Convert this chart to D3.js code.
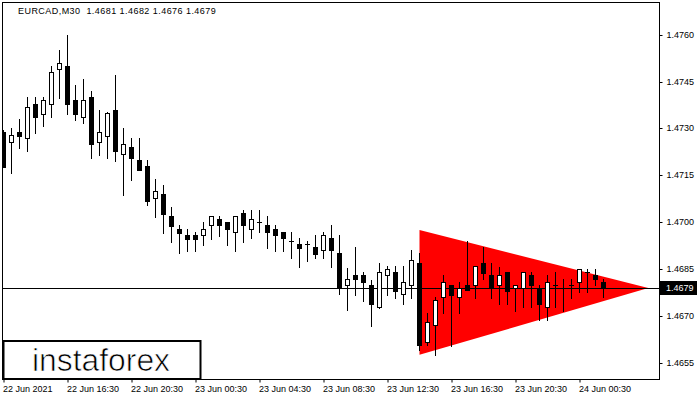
<!DOCTYPE html>
<html><head><meta charset="utf-8">
<script src="https://cdn.jsdelivr.net/npm/d3@7"></script>
<style>
html,body{margin:0;padding:0;background:#fff;}
svg{display:block;}
text{font-family:"Liberation Sans",Arial,sans-serif;}
</style></head>
<body>
<svg id="chart" width="700" height="400"></svg>
<script>
const symbolTitle = "EURCAD,M30  1.4681 1.4682 1.4676 1.4679";
const openVals = [1.47288,1.47258,1.47289,1.47269,1.47378,1.47347,1.47377,1.47489,1.47499,1.47390,
1.47338,1.47401,1.47258,1.47277,1.47358,1.47218,1.47240,1.47199,1.47180,1.47079,
1.47091,1.47020,1.46980,1.46959,1.46959,1.46958,1.46990,1.47011,1.47000,1.46968,
1.47029,1.46978,1.47000,1.46990,1.46978,1.46968,1.46939,1.46930,1.46930,1.46920,
1.46911,1.46949,1.46901,1.46799,1.46832,1.46832,1.46800,1.46728,1.46831,1.46840,
1.46770,1.46799,1.46870,1.46618,1.46671,1.46760,1.46799,1.46760,1.46799,1.46799,
1.46869,1.46831,1.46799,1.46840,1.46789,1.46789,1.46831,1.46789,1.46728,1.46799,
1.46789,1.46799,1.46808,1.46840,1.46831,1.46810];
const highVals = [1.47295,1.47301,1.47329,1.47402,1.47402,1.47402,1.47499,1.47551,1.47599,1.47439,
1.47458,1.47420,1.47359,1.47352,1.47471,1.47301,1.47269,1.47269,1.47199,1.47138,
1.47119,1.47048,1.46991,1.46979,1.46969,1.47001,1.47019,1.47020,1.47000,1.47019,
1.47039,1.47039,1.47039,1.47019,1.46990,1.46968,1.46968,1.46949,1.46939,1.46959,
1.46969,1.46990,1.46959,1.46854,1.46920,1.46840,1.46816,1.46870,1.46860,1.46860,
1.46860,1.46911,1.46901,1.46710,1.46762,1.46832,1.46799,1.46808,1.46940,1.46859,
1.46922,1.46869,1.46858,1.46840,1.46799,1.46840,1.46840,1.46799,1.46831,1.46840,
1.46818,1.46818,1.46850,1.46850,1.46850,1.46820];
const lowVals = [1.47177,1.47159,1.47239,1.47229,1.47287,1.47309,1.47338,1.47399,1.47347,1.47328,
1.47319,1.47207,1.47215,1.47207,1.47196,1.47087,1.47135,1.47168,1.47055,1.47018,
1.46967,1.46938,1.46901,1.46909,1.46909,1.46928,1.46948,1.46957,1.46928,1.46909,
1.46938,1.46949,1.46968,1.46919,1.46909,1.46909,1.46887,1.46858,1.46877,1.46887,
1.46887,1.46858,1.46770,1.46719,1.46769,1.46748,1.46669,1.46725,1.46769,1.46759,
1.46739,1.46759,1.46592,1.46609,1.46576,1.46709,1.46605,1.46709,1.46784,1.46759,
1.46818,1.46759,1.46738,1.46738,1.46717,1.46728,1.46728,1.46688,1.46688,1.46728,
1.46717,1.46759,1.46778,1.46778,1.46799,1.46760];
const closeVals = [1.47178,1.47279,1.47277,1.47368,1.47338,1.47390,1.47480,1.47509,1.47377,1.47347,
1.47390,1.47250,1.47288,1.47349,1.47229,1.47250,1.47207,1.47168,1.47069,1.47100,
1.47028,1.46989,1.46967,1.46948,1.46948,1.46979,1.47019,1.46990,1.46978,1.47019,
1.46990,1.47010,1.47000,1.46968,1.46958,1.46949,1.46939,1.46919,1.46930,1.46900,
1.46959,1.46911,1.46789,1.46818,1.46818,1.46808,1.46738,1.46840,1.46850,1.46779,
1.46808,1.46880,1.46609,1.46680,1.46751,1.46808,1.46769,1.46789,1.46784,1.46859,
1.46839,1.46789,1.46831,1.46779,1.46799,1.46840,1.46799,1.46738,1.46808,1.46799,
1.46789,1.46799,1.46850,1.46840,1.46818,1.46790];
const timeTickIndex = [0,8,16,24,32,40,48,56,64,72];
const timeTickLabels = ["22 Jun 2021","22 Jun 16:30","22 Jun 20:30","23 Jun 00:30","23 Jun 04:30",
"23 Jun 08:30","23 Jun 12:30","23 Jun 16:30","23 Jun 20:30","24 Jun 00:30"];
const priceTicks = [1.4655,1.4670,1.4685,1.4700,1.4715,1.4730,1.4745,1.4760];
const patternIndex = [52, 52, 80.6];
const patternPrice = [1.46975, 1.46576, 1.46790];
const currentPrice = 1.4679;
const logoText = "instaforex";

const svg = d3.select("#chart");
const L = 2.5, R = 659.5, T = 2.5, B = 379.5;
const x = d3.scaleLinear().domain([0, 80]).range([3.5, 643.5]);
const y = d3.scaleLinear().domain([1.4655, 1.4760]).range([363, 34.7]);
const py = v => Math.round(y(v)) + 0.5;

svg.append("defs").append("clipPath").attr("id","plot")
  .append("rect").attr("x",L).attr("y",T).attr("width",R-L).attr("height",B-T);

const plot = svg.append("g").attr("clip-path","url(#plot)");

// pattern triangle
plot.append("polygon")
  .attr("points", patternIndex.map((d,i)=>[x(d), y(patternPrice[i])].join(",")).join(" "))
  .attr("fill","#ff0000");

// current price line
plot.append("line").attr("x1",L).attr("x2",R)
  .attr("y1",py(currentPrice)).attr("y2",py(currentPrice))
  .attr("stroke","#000").attr("stroke-width",1);

// candles
const idx = d3.range(openVals.length);
const g = plot.selectAll("g.c").data(idx).join("g").attr("class","c");
g.append("line")
  .attr("x1", i=>x(i)).attr("x2", i=>x(i))
  .attr("y1", i=>Math.round(y(highVals[i])))
  .attr("y2", i=>Math.round(y(lowVals[i]))+1)
  .attr("stroke","#000").attr("stroke-width",1);
g.each(function(i){
  const o = openVals[i], c = closeVals[i];
  const sel = d3.select(this);
  const yt = Math.round(y(Math.max(o,c))), yb = Math.round(y(Math.min(o,c)));
  if (yb - yt < 1) {
    sel.append("line").attr("x1", x(i)-2.5).attr("x2", x(i)+2.5)
      .attr("y1", yt+0.5).attr("y2", yt+0.5).attr("stroke","#000");
  } else {
    sel.append("rect").attr("x", x(i)-2).attr("width",4)
      .attr("y", yt+0.5).attr("height", yb-yt)
      .attr("fill", c>o ? "#fff" : "#000").attr("stroke","#000").attr("stroke-width",1);
  }
});

// frame
svg.append("rect").attr("x",L).attr("y",T).attr("width",R-L).attr("height",B-T)
  .attr("fill","none").attr("stroke","#000").attr("stroke-width",1);

// y axis
const yAxis = d3.axisRight(y).tickValues(priceTicks).tickSize(3).tickPadding(4)
  .tickFormat(d3.format(".4f"));
const ya = svg.append("g").attr("transform",`translate(${R},0)`).call(yAxis);
ya.select(".domain").remove();
ya.selectAll(".tick").attr("transform", d=>`translate(0,${py(d)})`);
ya.selectAll("text").attr("font-family","Liberation Sans, Arial, sans-serif").attr("font-size",9).attr("fill","#000");
ya.selectAll("line").attr("stroke","#000");

// current price label
svg.append("rect").attr("x",660).attr("y",py(currentPrice)-7.5).attr("width",37).attr("height",14).attr("fill","#000");
svg.append("text").attr("x",666).attr("y",py(currentPrice)).attr("dy","0.32em")
  .attr("font-size",9).attr("fill","#fff").text(d3.format(".4f")(currentPrice));

// x axis
const xAxis = d3.axisBottom(x).tickValues(timeTickIndex).tickSize(3).tickPadding(3)
  .tickFormat((d,i)=>timeTickLabels[i]);
const xa = svg.append("g").attr("transform",`translate(0,${B})`).call(xAxis);
xa.select(".domain").remove();
xa.selectAll("text").attr("text-anchor","start").attr("dx",-1)
  .attr("font-family","Liberation Sans, Arial, sans-serif").attr("font-size",9).attr("fill","#000");
xa.selectAll("line").attr("stroke","#000");

// title
svg.append("text").attr("x",18).attr("y",14).attr("font-size",9).attr("fill","#000")
  .attr("letter-spacing",0.45)
  .attr("xml:space","preserve").style("white-space","pre").text(symbolTitle);

// logo
svg.append("rect").attr("x",3.5).attr("y",341).attr("width",197).attr("height",38)
  .attr("fill","#fff").attr("stroke","#000").attr("stroke-width",2);
svg.append("text").attr("x",32).attr("y",370.5).attr("font-family","Roboto, 'DejaVu Sans', sans-serif")
  .attr("font-size",31).attr("fill","#000")
  .attr("stroke","#fff").attr("stroke-width",0.7)
  .attr("textLength",138).attr("lengthAdjust","spacingAndGlyphs").text(logoText);
</script>
</body></html>
